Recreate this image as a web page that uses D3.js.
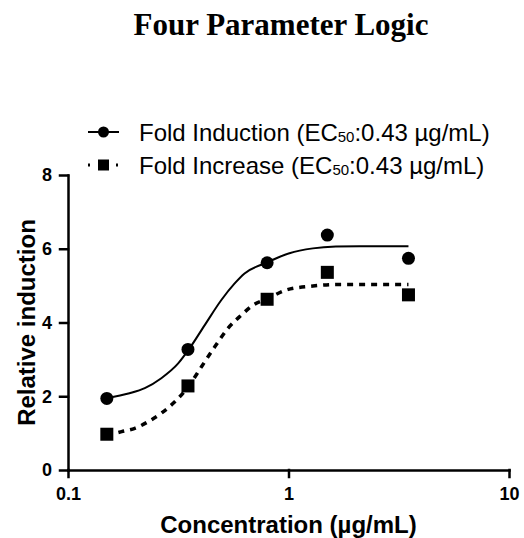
<!DOCTYPE html>
<html>
<head>
<meta charset="utf-8">
<script src="https://cdn.jsdelivr.net/npm/d3@7"></script>
<style>
  body { margin: 0; background: #fff; }
</style>
</head>
<body>
<div id="chart"></div>
<script>
// measured points
var conc = [0.15, 0.35, 0.8, 1.5, 3.5]
var foldInduction = [1.94, 3.27, 5.62, 6.37, 5.74]
var foldIncrease = [0.97, 2.28, 4.63, 5.36, 4.75]

// fitted curves
var inductionCurveX = [0.15, 0.19, 0.223, 0.265, 0.316, 0.356, 0.417, 0.496, 0.57, 0.632, 0.793, 1.01, 1.29, 1.64, 2.1, 3.5]
var inductionCurveY = [1.95, 2.08, 2.22, 2.49, 2.89, 3.30, 3.93, 4.61, 5.06, 5.33, 5.62, 5.88, 6.01, 6.06, 6.07, 6.07]
var increaseCurveX = [0.15, 0.175, 0.201, 0.231, 0.265, 0.305, 0.354, 0.403, 0.463, 0.531, 0.611, 0.69, 0.793, 0.976, 1.29, 1.7, 3.5]
var increaseCurveY = [0.93, 1.04, 1.13, 1.31, 1.54, 1.85, 2.29, 2.80, 3.34, 3.84, 4.20, 4.47, 4.63, 4.88, 4.99, 5.03, 5.03]

var xTicks = [0.1, 1, 10]
var yTicks = [0, 2, 4, 6, 8]
var legendLabels = ['Fold Induction', 'Fold Increase']
var ec50 = ['0.43', '0.43']

var width = 524, height = 538
var sans = "Arial, 'Liberation Sans', sans-serif"

var svg = d3.select('#chart')
  .append('svg')
  .attr('width', width)
  .attr('height', height)

var x = d3.scaleLog().domain([0.1, 10]).range([68, 509])
var y = d3.scaleLinear().domain([0, 8]).range([470, 175])

// title
svg.append('text')
  .attr('x', 281)
  .attr('y', 35)
  .attr('text-anchor', 'middle')
  .style('font-family', "'Times New Roman', 'Liberation Serif', serif")
  .style('font-weight', 'bold')
  .style('font-size', '31px')
  .text('Four Parameter Logic')

// axes
var xAxis = svg.append('g')
  .attr('transform', 'translate(0,' + y(0) + ')')
  .call(d3.axisBottom(x).tickValues(xTicks).tickFormat(d3.format('')).tickSize(7).tickSizeOuter(0).tickPadding(10))
var yAxis = svg.append('g')
  .attr('transform', 'translate(' + x(0.1) + ',0)')
  .call(d3.axisLeft(y).tickValues(yTicks).tickSize(8).tickSizeOuter(0).tickPadding(8))

svg.selectAll('.domain, .tick line')
  .attr('stroke', '#000')
  .attr('stroke-width', 2.5)
  .attr('stroke-linecap', 'square')
svg.selectAll('.tick text')
  .style('font-family', sans)
  .style('font-weight', 'bold')
  .style('font-size', '18px')
  .attr('fill', '#000')

// axis labels
svg.append('text')
  .attr('x', (x(0.1) + x(10)) / 2)
  .attr('y', 533)
  .attr('text-anchor', 'middle')
  .style('font-family', sans)
  .style('font-weight', 'bold')
  .style('font-size', '24px')
  .text('Concentration (µg/mL)')

svg.append('text')
  .attr('text-anchor', 'middle')
  .attr('transform', 'translate(35,' + (y(0) + y(8)) / 2 + ')rotate(-90)')
  .style('font-family', sans)
  .style('font-weight', 'bold')
  .style('font-size', '24px')
  .text('Relative induction')

// curves
var line = d3.line()
  .x(function (d) { return x(d[0]) })
  .y(function (d) { return y(d[1]) })
  .curve(d3.curveMonotoneX)

svg.append('path')
  .datum(d3.zip(inductionCurveX, inductionCurveY))
  .attr('d', line)
  .attr('fill', 'none')
  .attr('stroke', '#000')
  .attr('stroke-width', 2)

svg.append('path')
  .datum(d3.zip(increaseCurveX, increaseCurveY))
  .attr('d', line)
  .attr('fill', 'none')
  .attr('stroke', '#000')
  .attr('stroke-width', 3.5)
  .attr('stroke-dasharray', '6,6')

// points
svg.append('g')
  .selectAll('circle')
  .data(d3.zip(conc, foldInduction))
  .enter()
  .append('circle')
  .attr('cx', function (d) { return x(d[0]) })
  .attr('cy', function (d) { return y(d[1]) })
  .attr('r', 6.5)
  .attr('fill', '#000')

var sq = 13
svg.append('g')
  .selectAll('rect')
  .data(d3.zip(conc, foldIncrease))
  .enter()
  .append('rect')
  .attr('x', function (d) { return x(d[0]) - sq / 2 })
  .attr('y', function (d) { return y(d[1]) - sq / 2 })
  .attr('width', sq)
  .attr('height', sq)
  .attr('fill', '#000')

// legend
var legend = svg.append('g')
var rowY = [132, 165]

legend.append('line')
  .attr('x1', 88).attr('x2', 119)
  .attr('y1', rowY[0]).attr('y2', rowY[0])
  .attr('stroke', '#000').attr('stroke-width', 2)
legend.append('circle')
  .attr('cx', 103.5).attr('cy', rowY[0]).attr('r', 5.5)
  .attr('fill', '#000')

legend.append('line')
  .attr('x1', 88).attr('x2', 120)
  .attr('y1', rowY[1]).attr('y2', rowY[1])
  .attr('stroke', '#000').attr('stroke-width', 3)
  .attr('stroke-dasharray', '2,12')
legend.append('rect')
  .attr('x', 103.5 - 5.5).attr('y', rowY[1] - 5.5)
  .attr('width', 11).attr('height', 11)
  .attr('fill', '#000')

legendLabels.forEach(function (label, i) {
  var t = legend.append('text')
    .attr('x', 139)
    .attr('y', rowY[i] + 8.5)
    .style('font-family', sans)
    .style('font-size', '24px')
  t.append('tspan').text(label + ' (EC')
  t.append('tspan').style('font-size', '15px').attr('dy', 1).text('50')
  t.append('tspan').attr('dy', -1).text(':' + ec50[i] + ' µg/mL)')
})
</script>
</body>
</html>
